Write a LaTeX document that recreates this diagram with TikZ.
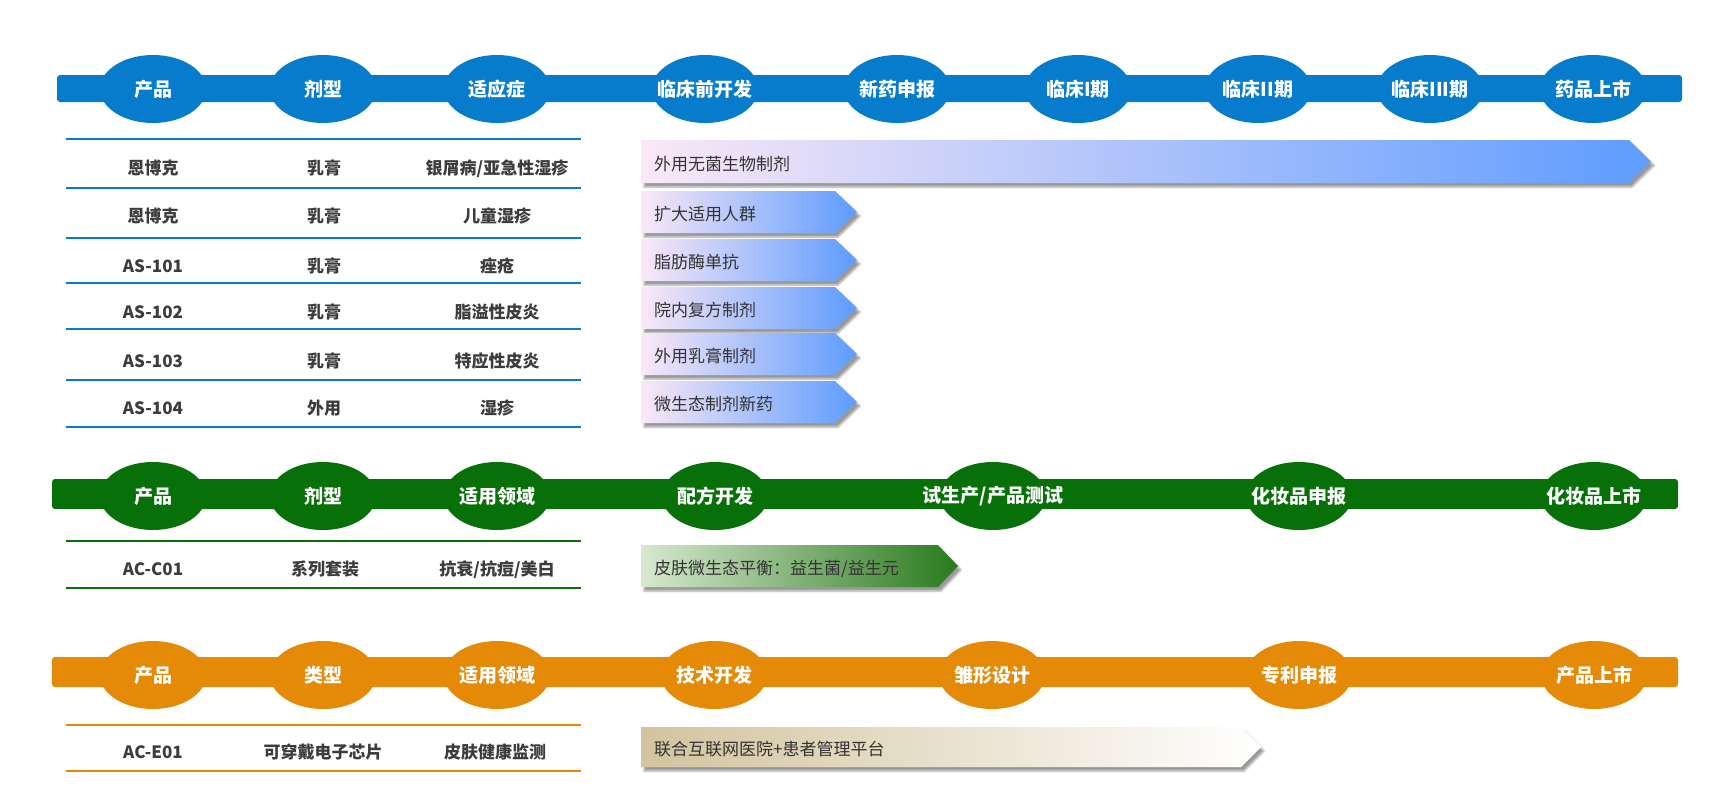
\documentclass[tikz,border=0pt]{standalone}
\usepackage{fontspec}
\setmainfont{Noto Sans CJK SC}
\usepackage{xcolor}
\definecolor{BandBlue}{HTML}{077BCC}
\definecolor{BandGreen}{HTML}{087008}
\definecolor{BandOrange}{HTML}{E58A07}
\definecolor{CellText}{HTML}{3C3C3C}
\definecolor{PipeText}{HTML}{333333}
\definecolor{BlueStart}{HTML}{FAE8F7}
\definecolor{BlueMid}{HTML}{88C2FA}
\definecolor{BlueEnd}{HTML}{5E9CFE}
\definecolor{GreenStart}{HTML}{D8E8D0}
\definecolor{GreenMid}{HTML}{A6BF7E}
\definecolor{GreenEnd}{HTML}{2A7A1E}
\definecolor{SandStart}{HTML}{D3C49E}
\definecolor{SandMid}{HTML}{EFE8D6}
\usepackage{tikz}
\usetikzlibrary{shapes.geometric,shadows.blur}
\newcommand{\zw}[1]{\makebox[0pt]{#1}}
\tikzset{
  band/.style={rounded corners=3pt,inner sep=0pt},
  milestone/.style={ellipse,inner sep=0pt,minimum width=106pt,minimum height=68pt,
    text=white,font=\fontsize{19}{19}\selectfont\bfseries},
  cell/.style={anchor=base,yshift=-6pt,inner sep=0pt,text=CellText,
    font=\fontsize{17}{17}\selectfont\bfseries},
  pipe/.style={blur shadow={shadow xshift=3pt,shadow yshift=-4pt,
    shadow blur radius=2pt,shadow opacity=40}},
  pipetext/.style={anchor=base west,yshift=-6pt,inner sep=0pt,text=PipeText,
    font=\fontsize{17}{17}\selectfont},
  rowrule/.style={line width=2pt}
}

\begin{document}
\begin{tikzpicture}[x=1pt,y=-1pt]
  \useasboundingbox (0,0) rectangle (1727,811);

  % drug line
  \node[band,fill=BandBlue,minimum width=1625pt,minimum height=27pt] (drugband) at (869.5,88.5) {};
  \node[milestone,fill=BandBlue] (d-prod) at (153,89) {\zw{产品}};
  \node[milestone,fill=BandBlue] (d-form) at (323,89) {\zw{剂型}};
  \node[milestone,fill=BandBlue] (d-ind) at (497,89) {\zw{适应症}};
  \node[milestone,fill=BandBlue] (d-pre) at (705,89) {\zw{临床前开发}};
  \node[milestone,fill=BandBlue] (d-ind2) at (897,89) {\zw{新药申报}};
  \node[milestone,fill=BandBlue] (d-p1) at (1078,89) {\zw{临床I期}};
  \node[milestone,fill=BandBlue] (d-p2) at (1258,89) {\zw{临床II期}};
  \node[milestone,fill=BandBlue] (d-p3) at (1430,89) {\zw{临床III期}};
  \node[milestone,fill=BandBlue] (d-mkt) at (1593,89) {\zw{药品上市}};

  \foreach \y in {139,188,238,283,329,380,427}
    \draw[rowrule,BandBlue] (66,\y) -- (581,\y);
  \node[cell] (r1a) at (153,168) {恩博克};
  \node[cell] (r1b) at (324,168) {乳膏};
  \node[cell] (r1c) at (497,168) {银屑病/亚急性湿疹};
  \node[cell] (r2a) at (153,216) {恩博克};
  \node[cell] (r2b) at (324,216) {乳膏};
  \node[cell] (r2c) at (497,216) {儿童湿疹};
  \node[cell] (r3a) at (153,266) {AS-101};
  \node[cell] (r3b) at (324,266) {乳膏};
  \node[cell] (r3c) at (497,266) {痤疮};
  \node[cell] (r4a) at (153,312) {AS-102};
  \node[cell] (r4b) at (324,312) {乳膏};
  \node[cell] (r4c) at (497,312) {脂溢性皮炎};
  \node[cell] (r5a) at (153,361) {AS-103};
  \node[cell] (r5b) at (324,361) {乳膏};
  \node[cell] (r5c) at (497,361) {特应性皮炎};
  \node[cell] (r6a) at (153,408) {AS-104};
  \node[cell] (r6b) at (324,408) {外用};
  \node[cell] (r6c) at (497,408) {湿疹};

  \shade[pipe,left color=BlueStart,middle color=BlueMid,right color=BlueEnd]
    (641,140) -- (1629,140) -- (1651,161.5) -- (1629,183) -- (641,183) -- cycle;
  \node[pipetext] (pipe1) at (654,164) {外用无菌生物制剂};
  \shade[pipe,left color=BlueStart,middle color=BlueMid,right color=BlueEnd]
    (641,191) -- (835,191) -- (857,212) -- (835,233) -- (641,233) -- cycle;
  \node[pipetext] (pipe2) at (654,214) {扩大适用人群};
  \shade[pipe,left color=BlueStart,middle color=BlueMid,right color=BlueEnd]
    (641,239) -- (835,239) -- (857,260) -- (835,281) -- (641,281) -- cycle;
  \node[pipetext] (pipe3) at (654,262) {脂肪酶单抗};
  \shade[pipe,left color=BlueStart,middle color=BlueMid,right color=BlueEnd]
    (641,287) -- (835,287) -- (857,308) -- (835,329) -- (641,329) -- cycle;
  \node[pipetext] (pipe4) at (654,310) {院内复方制剂};
  \shade[pipe,left color=BlueStart,middle color=BlueMid,right color=BlueEnd]
    (641,333) -- (835,333) -- (857,354) -- (835,375) -- (641,375) -- cycle;
  \node[pipetext] (pipe5) at (654,356) {外用乳膏制剂};
  \shade[pipe,left color=BlueStart,middle color=BlueMid,right color=BlueEnd]
    (641,381) -- (835,381) -- (857,402) -- (835,423) -- (641,423) -- cycle;
  \node[pipetext] (pipe6) at (654,404) {微生态制剂新药};

  % cosmetics line
  \node[band,fill=BandGreen,minimum width=1626pt,minimum height=30pt] (cosband) at (865,494) {};
  \node[milestone,fill=BandGreen] (c-prod) at (153,496) {\zw{产品}};
  \node[milestone,fill=BandGreen] (c-form) at (323,496) {\zw{剂型}};
  \node[milestone,fill=BandGreen] (c-field) at (497,496) {\zw{适用领域}};
  \node[milestone,fill=BandGreen] (c-dev) at (715,496) {\zw{配方开发}};
  \node[milestone,fill=BandGreen] (c-trial) at (993,496) {\zw{试生产/产品测试}};
  \node[milestone,fill=BandGreen] (c-reg) at (1299,496) {\zw{化妆品申报}};
  \node[milestone,fill=BandGreen] (c-mkt) at (1594,496) {\zw{化妆品上市}};

  \draw[rowrule,BandGreen] (66,541) -- (581,541);
  \draw[rowrule,BandGreen] (66,588) -- (581,588);
  \node[cell] (c1a) at (153,569) {AC-C01};
  \node[cell] (c1b) at (325,569) {系列套装};
  \node[cell] (c1c) at (497,569) {抗衰/抗痘/美白};

  \shade[pipe,left color=GreenStart,middle color=GreenMid,right color=GreenEnd]
    (641,545) -- (938,545) -- (958,566) -- (938,587) -- (641,587) -- cycle;
  \node[pipetext] (pipe7) at (654,568) {皮肤微生态平衡：益生菌/益生元};

  % device line
  \node[band,fill=BandOrange,minimum width=1626pt,minimum height=30pt] (devband) at (865,672) {};
  \node[milestone,fill=BandOrange] (e-prod) at (153,675) {\zw{产品}};
  \node[milestone,fill=BandOrange] (e-type) at (323,675) {\zw{类型}};
  \node[milestone,fill=BandOrange] (e-field) at (497,675) {\zw{适用领域}};
  \node[milestone,fill=BandOrange] (e-dev) at (714,675) {\zw{技术开发}};
  \node[milestone,fill=BandOrange] (e-proto) at (992,675) {\zw{雏形设计}};
  \node[milestone,fill=BandOrange] (e-pat) at (1299,675) {\zw{专利申报}};
  \node[milestone,fill=BandOrange] (e-mkt) at (1594,675) {\zw{产品上市}};

  \draw[rowrule,BandOrange] (66,725) -- (581,725);
  \draw[rowrule,BandOrange] (66,771) -- (581,771);
  \node[cell] (e1a) at (153,752) {AC-E01};
  \node[cell] (e1b) at (323,752) {可穿戴电子芯片};
  \node[cell] (e1c) at (495,752) {皮肤健康监测};

  \shade[pipe,left color=SandStart,middle color=SandMid,right color=white]
    (641,727) -- (1241,727) -- (1261,747) -- (1241,767) -- (641,767) -- cycle;
  \node[pipetext] (pipe8) at (654,749) {联合互联网医院+患者管理平台};
\end{tikzpicture}
\end{document}
